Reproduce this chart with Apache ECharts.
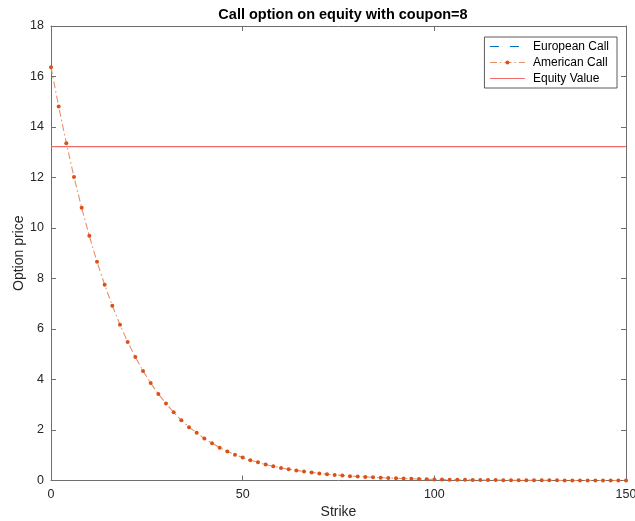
<!DOCTYPE html>
<html>
<head>
<meta charset="utf-8">
<script src="https://cdn.jsdelivr.net/npm/echarts@6/dist/echarts.min.js"></script>
<style>
  html, body { margin: 0; padding: 0; background: #fff; }
  #chart { width: 635px; height: 521px; }
</style>
</head>
<body>
<div id="chart"></div>
<script>
// Strike grid (0 to 150 in steps of 2)
const strikes = [
  0, 2, 4, 6, 8, 10, 12, 14, 16, 18, 20, 22, 24, 26, 28, 30, 32, 34, 36, 38,
  40, 42, 44, 46, 48, 50, 52, 54, 56, 58, 60, 62, 64, 66, 68, 70, 72, 74, 76, 78,
  80, 82, 84, 86, 88, 90, 92, 94, 96, 98, 100, 102, 104, 106, 108, 110, 112, 114, 116, 118,
  120, 122, 124, 126, 128, 130, 132, 134, 136, 138, 140, 142, 144, 146, 148, 150
];

// European call prices per strike
const europeanCall = [
  16.37, 14.81, 13.36, 12.02, 10.80, 9.69, 8.66, 7.75, 6.92, 6.17,
  5.49, 4.89, 4.34, 3.86, 3.43, 3.05, 2.70, 2.39, 2.11, 1.89,
  1.66, 1.48, 1.30, 1.15, 1.02, 0.91, 0.80, 0.72, 0.63, 0.56,
  0.50, 0.45, 0.40, 0.36, 0.32, 0.28, 0.25, 0.22, 0.20, 0.17,
  0.16, 0.14, 0.13, 0.11, 0.10, 0.09, 0.08, 0.07, 0.06, 0.05,
  0.04, 0.04, 0.03, 0.03, 0.03, 0.02, 0.02, 0.02, 0.02, 0.01,
  0.01, 0.01, 0.01, 0.01, 0.01, 0.01, 0.01, 0.00, 0.00, 0.00,
  0.00, 0.00, 0.00, 0.00, 0.00, 0.00
];

// American call prices per strike (no early-exercise premium here)
const americanCall = [
  16.37, 14.81, 13.36, 12.02, 10.80, 9.69, 8.66, 7.75, 6.92, 6.17,
  5.49, 4.89, 4.34, 3.86, 3.43, 3.05, 2.70, 2.39, 2.11, 1.89,
  1.66, 1.48, 1.30, 1.15, 1.02, 0.91, 0.80, 0.72, 0.63, 0.56,
  0.50, 0.45, 0.40, 0.36, 0.32, 0.28, 0.25, 0.22, 0.20, 0.17,
  0.16, 0.14, 0.13, 0.11, 0.10, 0.09, 0.08, 0.07, 0.06, 0.05,
  0.04, 0.04, 0.03, 0.03, 0.03, 0.02, 0.02, 0.02, 0.02, 0.01,
  0.01, 0.01, 0.01, 0.01, 0.01, 0.01, 0.01, 0.00, 0.00, 0.00,
  0.00, 0.00, 0.00, 0.00, 0.00, 0.00
];

// Equity value (flat across strikes)
const equityValue = 13.22;

// Axis ticks
const xTicks = [0, 50, 100, 150];
const yTicks = [0, 2, 4, 6, 8, 10, 12, 14, 16, 18];

const FONT = '"Liberation Sans", Helvetica, Arial, sans-serif';
const AXIS_COLOR = '#6e6e6e';
const TEXT_COLOR = '#262626';
const CURVE_DASH = [7, 3, 1.5, 3];

const pairs = (xs, ys) => xs.map((x, i) => [x, ys[i]]);

const boxAxis = (extra) => Object.assign({
  axisLine: { show: true, onZero: false, lineStyle: { color: AXIS_COLOR, width: 1 } },
  axisTick: { show: true, inside: true, length: 5, lineStyle: { color: AXIS_COLOR } },
  splitLine: { show: false }
}, extra);

const chart = echarts.init(document.getElementById('chart'), null, { renderer: 'canvas' });

chart.setOption({
  animation: false,
  backgroundColor: '#fff',
  textStyle: { fontFamily: FONT },
  title: {
    text: 'Call option on equity with coupon=8',
    left: 338,
    top: 2,
    textAlign: 'center',
    textStyle: { fontFamily: FONT, fontSize: 14.5, fontWeight: 'bold', color: '#000' }
  },
  grid: {
    left: 51, right: 9, top: 26, bottom: 40.5,
    containLabel: false, outerBoundsMode: 'none'
  },
  legend: {
    orient: 'vertical',
    right: 18,
    top: 37,
    itemWidth: 35,
    itemHeight: 5,
    itemGap: 1,
    padding: [2, 8, 2, 5],
    backgroundColor: '#fff',
    borderColor: '#333',
    borderWidth: 0.8,
    borderRadius: 0,
    lineStyle: { width: 1 },
    textStyle: { fontFamily: FONT, fontSize: 12, lineHeight: 15, color: '#000', padding: [0, 0, 0, 3] },
    data: [
      {
        name: 'European Call',
        itemStyle: { opacity: 0 },
        lineStyle: { type: [9, 11], width: 1, opacity: 1, color: '#0072BD' }
      },
      { name: 'American Call' },
      { name: 'Equity Value', itemStyle: { opacity: 0 } }
    ]
  },
  xAxis: [
    boxAxis({
      type: 'value', min: 0, max: 150, interval: 50, position: 'bottom',
      name: 'Strike', nameLocation: 'middle', nameGap: 25, nameMoveOverlap: false,
      nameTextStyle: { fontFamily: FONT, fontSize: 14, color: TEXT_COLOR },
      axisLabel: {
        margin: 8, fontFamily: FONT, fontSize: 12.5, color: TEXT_COLOR,
        formatter: (v) => (xTicks.indexOf(v) >= 0 ? String(v) : '')
      }
    }),
    boxAxis({
      type: 'value', min: 0, max: 150, interval: 50, position: 'top',
      axisLabel: { show: false }
    })
  ],
  yAxis: [
    boxAxis({
      type: 'value', min: 0, max: 18, interval: 2, position: 'left',
      name: 'Option price', nameLocation: 'middle', nameGap: 25, nameMoveOverlap: false,
      nameTextStyle: { fontFamily: FONT, fontSize: 14, color: TEXT_COLOR },
      axisLabel: {
        margin: 7, fontFamily: FONT, fontSize: 12.5, color: TEXT_COLOR,
        formatter: (v) => (yTicks.indexOf(v) >= 0 ? String(v) : '')
      }
    }),
    boxAxis({
      type: 'value', min: 0, max: 18, interval: 2, position: 'right',
      axisLabel: { show: false }
    })
  ],
  series: [
    {
      // European curve coincides with the American one and is drawn beneath it
      name: 'European Call',
      type: 'line',
      data: pairs(strikes, europeanCall),
      showSymbol: false,
      symbol: 'none',
      itemStyle: { color: '#0072BD' },
      lineStyle: { color: '#0072BD', width: 0.5, type: CURVE_DASH, opacity: 0 },
      z: 2
    },
    {
      name: 'American Call',
      type: 'line',
      data: pairs(strikes, americanCall),
      symbol: 'circle',
      symbolSize: 4,
      showAllSymbol: true,
      itemStyle: { color: '#D95319' },
      lineStyle: { color: '#E8906A', width: 1.1, type: CURVE_DASH },
      z: 3
    },
    {
      name: 'Equity Value',
      type: 'line',
      data: [[strikes[0], equityValue], [strikes[strikes.length - 1], equityValue]],
      symbol: 'none',
      itemStyle: { color: '#F26B6B' },
      lineStyle: { color: '#F26B6B', width: 1.2 },
      z: 4
    }
  ]
});
</script>
</body>
</html>
